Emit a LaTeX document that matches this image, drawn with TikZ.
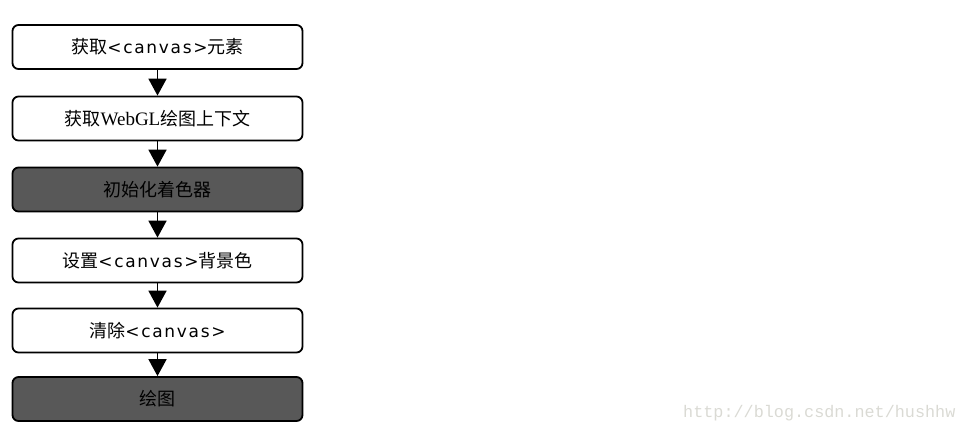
\documentclass[tikz,border=0pt]{standalone}
\usepackage{fontspec}
\usetikzlibrary{arrows.meta}
\setmainfont{Liberation Serif}
\newfontfamily\cjk{Noto Sans CJK SC}
\newfontfamily\mono[LetterSpace=10]{DejaVu Sans}
\newfontfamily\wmfont{Liberation Mono}
\newcommand{\cv}{{\mono\fontsize{17}{20}\selectfont <canvas>}}
\definecolor{darkfill}{RGB}{88,88,88}
\definecolor{wmgray}{RGB}{218,218,212}
\tikzset{
  stepbox/.style={draw=black, line width=1.8pt, rounded corners=6pt, fill=white,
    minimum width=290pt, minimum height=44pt, inner sep=0pt,
    font=\fontsize{18}{21}\selectfont\cjk},
  darkbox/.style={stepbox, fill=darkfill},
  flow/.style={line width=1.8pt, -{Triangle[width=18pt,length=17pt]}}
}
\begin{document}
\begin{tikzpicture}[x=1pt,y=-1pt]
\useasboundingbox (0,0) rectangle (965,432);
\node[stepbox] (a) at (157.5,47) {获取\cv 元素};
\node[stepbox] (b) at (157.5,118.5) {获取{\rmfamily\fontsize{19}{21}\selectfont WebGL}绘图上下文};
\node[darkbox] (c) at (157.5,189.5) {初始化着色器};
\node[stepbox] (d) at (157.5,260.5) {设置\cv 背景色};
\node[stepbox] (e) at (157.5,330.5) {清除\cv};
\node[darkbox] (f) at (157.5,399) {绘图};
\draw[flow] (a.south) -- (b.north);
\draw[flow] (b.south) -- (c.north);
\draw[flow] (c.south) -- (d.north);
\draw[flow] (d.south) -- (e.north);
\draw[flow] (e.south) -- (f.north);
\node[anchor=base west, inner sep=0pt, text=wmgray, font=\fontsize{16.8}{18}\selectfont\wmfont] (wm) at (683,417) {http://blog.csdn.net/hushhw};
\end{tikzpicture}
\end{document}
